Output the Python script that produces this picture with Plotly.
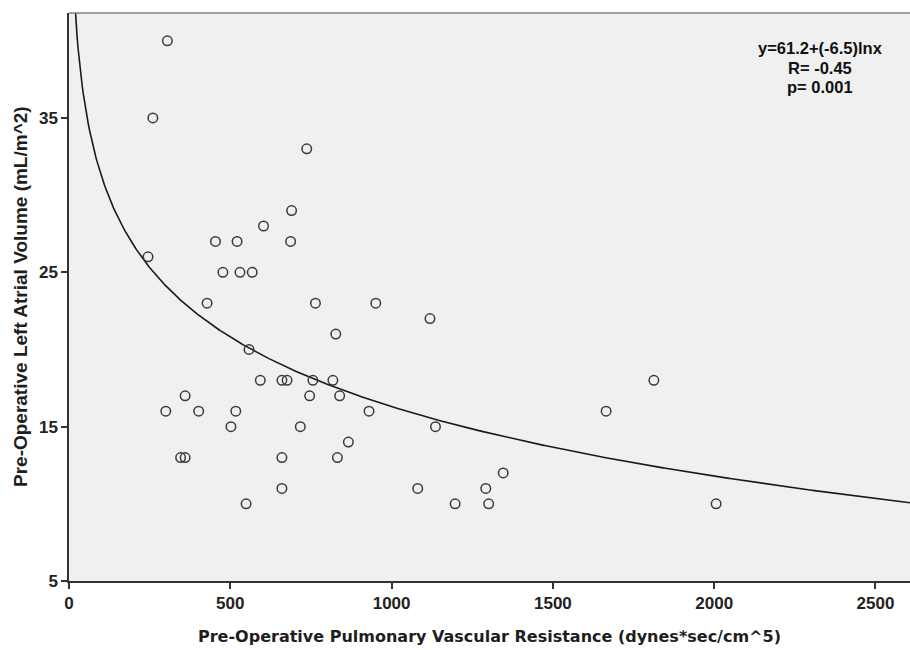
import numpy as np
import plotly.graph_objects as go

# Scatter data
pvr = [305, 260, 737, 690, 603, 454, 521, 687, 245, 477, 530, 568, 428, 764, 951,
       1119, 827, 558, 593, 660, 676, 756, 818, 360, 746, 839, 300, 402, 517, 930,
       502, 717, 1136, 866, 346, 360, 660, 832, 660, 1081, 1292, 1346, 549, 1197,
       1301, 1665, 1813, 2006]
lav = [40, 35, 33, 29, 28, 27, 27, 27, 26, 25, 25, 25, 23, 23, 23,
       22, 21, 20, 18, 18, 18, 18, 18, 17, 17, 17, 16, 16, 16, 16,
       15, 15, 15, 14, 13, 13, 13, 13, 11, 11, 11, 12, 10, 10,
       10, 16, 18, 10]

# Fit coefficients shown in the chart: y = a + b ln x
fit_a = 61.2
fit_b = -6.5
fit_text = ["y=61.2+(-6.5)lnx", "R= -0.45", "p= 0.001"]

x_ticks = [0, 500, 1000, 1500, 2000, 2500]
y_ticks = [5, 15, 25, 35]
x_range = [0, 2607]
y_range = [5, 41.8]

x_title = "Pre-Operative Pulmonary Vascular Resistance (dynes*sec/cm^5)"
y_title = "Pre-Operative Left Atrial Volume (mL/m^2)"

xc = np.linspace(15, x_range[1], 800)
yc = fit_a + fit_b * np.log(xc)

fig = go.Figure()
fig.add_trace(go.Scatter(x=xc, y=yc, mode="lines",
                         line=dict(color="#1a1a1a", width=1.6),
                         hoverinfo="skip", showlegend=False))
fig.add_trace(go.Scatter(x=pvr, y=lav, mode="markers",
                         marker=dict(symbol="circle-open", size=9.5,
                                     color="#3a3a3a", line=dict(width=1.5)),
                         showlegend=False))

fit_y = [0.938, 0.9037, 0.8694]
for txt, yy in zip(fit_text, fit_y):
    fig.add_annotation(xref="paper", yref="paper", x=0.893, y=yy,
                       xanchor="center", yanchor="middle",
                       text=txt, showarrow=False, borderpad=0,
                       font=dict(family="Liberation Sans, Arial", size=16.5,
                                 color="#111111", weight="bold"))

# axis titles
fig.add_annotation(xref="paper", yref="paper", x=0.5, y=0, yshift=-55,
                   xanchor="center", yanchor="middle", text=x_title, showarrow=False,
                   font=dict(family="DejaVu Sans", size=16, weight="bold", color="#1e1e1e"))
fig.add_annotation(xref="paper", yref="paper", x=0, y=0.5, xshift=-49,
                   xanchor="center", yanchor="middle", textangle=-90,
                   text=y_title, showarrow=False,
                   font=dict(family="Liberation Sans, Arial", size=19, weight="bold", color="#1e1e1e"))

tickfont = dict(family="Liberation Sans Narrow, Liberation Sans", size=17,
                weight="bold", color="#222222")
fig.update_layout(
    width=910, height=650,
    margin=dict(l=69, r=0, t=13, b=69),
    paper_bgcolor="white", plot_bgcolor="#f0f0f0",
    font=dict(family="Liberation Sans, Arial", color="#222222"),
)
fig.update_xaxes(range=x_range, tickvals=x_ticks, showgrid=False, zeroline=False,
                 showline=True, linecolor="#333333", linewidth=1.5,
                 ticks="outside", ticklen=6, tickcolor="#333333", tickwidth=1.5,
                 tickfont=tickfont, mirror=False)
fig.update_yaxes(range=y_range, tickvals=y_ticks, showgrid=False, zeroline=False,
                 showline=True, linecolor="#333333", linewidth=1.5,
                 ticks="outside", ticklen=6, tickcolor="#333333", tickwidth=1.5,
                 tickfont=tickfont)
# top border of the frame
fig.add_shape(type="line", xref="paper", yref="paper", x0=0, x1=1, y0=1, y1=1,
              line=dict(color="#808080", width=1.5))

fig.write_html("out.html", config={"displayModeBar": False},
               post_script="document.body.style.margin='0';")
